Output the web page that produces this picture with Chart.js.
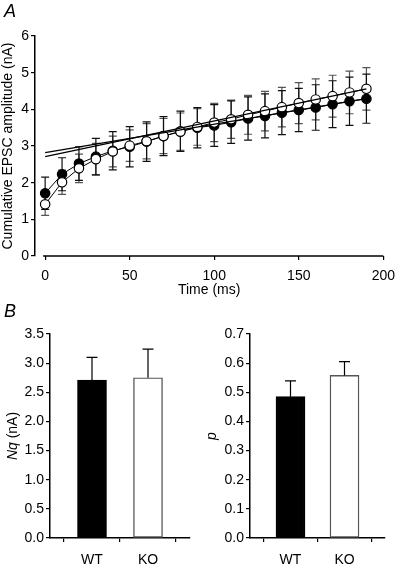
<!DOCTYPE html>
<html>
<head>
<meta charset="utf-8">
<script src="https://cdn.jsdelivr.net/npm/chart.js@4.4.1/dist/chart.umd.min.js"></script>
<style>
  html, body { margin: 0; padding: 0; background: #fff; }
  #wrap { position: relative; width: 403px; height: 565px; overflow: hidden; font-family: 'Liberation Sans', Arial, sans-serif; }
  canvas { position: absolute; }
  .panel { position: absolute; font-style: italic; font-size: 18px; line-height: 18px; color: #000; }
</style>
</head>
<body>
<div id="wrap">
  <canvas id="cumChart" width="403" height="300" style="left:0;top:0"></canvas>
  <canvas id="nqChart" width="200" height="270" style="left:0;top:295px"></canvas>
  <canvas id="pChart" width="203" height="270" style="left:200px;top:295px"></canvas>
  <div class="panel" style="left:4px;top:2px">A</div>
  <div class="panel" style="left:4px;top:302px">B</div>
</div>
<script>
// ---- data ----
const timeMs = [0, 10, 20, 30, 40, 50, 60, 70, 80, 90, 100, 110, 120, 130, 140, 150, 160, 170, 180, 190];
const wtMean = [1.71, 2.23, 2.52, 2.71, 2.87, 2.98, 3.12, 3.27, 3.40, 3.50, 3.56, 3.65, 3.75, 3.82, 3.91, 3.98, 4.05, 4.14, 4.22, 4.29];
const wtErr  = [0.44, 0.45, 0.46, 0.50, 0.52, 0.55, 0.54, 0.53, 0.55, 0.55, 0.57, 0.58, 0.59, 0.60, 0.60, 0.59, 0.62, 0.64, 0.66, 0.67];
const koMean = [1.41, 2.01, 2.39, 2.64, 2.85, 3.01, 3.13, 3.27, 3.39, 3.52, 3.64, 3.73, 3.85, 3.95, 4.06, 4.17, 4.27, 4.36, 4.46, 4.56];
const koErr  = [0.30, 0.33, 0.39, 0.43, 0.42, 0.43, 0.48, 0.48, 0.51, 0.50, 0.52, 0.52, 0.53, 0.54, 0.54, 0.56, 0.56, 0.57, 0.58, 0.58];
const fitTime = [0, 190];
const wtFit = [2.82, 4.29];
const koFit = [2.71, 4.56];
const timeTicks = [0, 50, 100, 150, 200];

const groups = ['WT', 'KO'];
const groupPos = [1, 2];
const nqMean = [2.71, 2.75];
const nqErr  = [0.39, 0.49];
const pMean  = [0.485, 0.558];
const pErr   = [0.054, 0.047];

Chart.defaults.font.family = "'Liberation Sans', Arial, sans-serif";
Chart.defaults.color = '#000';
Chart.defaults.animation = false;

const toPoints = (xs, ys) => xs.map((x, i) => ({ x: x, y: ys[i] }));

// error bars drawn from dataset.errors through the y scale
const errorBars = {
  id: 'errorBars',
  beforeDatasetsDraw(chart) {
    if (chart.config.type === 'line') drawErrors(chart);
  },
  afterDatasetsDraw(chart) {
    if (chart.config.type === 'bar') drawErrors(chart);
  }
};

function drawErrors(chart) {
  const ctx = chart.ctx;
  const yScale = chart.scales.y;
  chart.data.datasets.forEach((ds, di) => {
    if (!ds.errors) return;
    const meta = chart.getDatasetMeta(di);
    ctx.save();
    ctx.strokeStyle = ds.errorColor || '#000';
    ctx.lineWidth = 1.2;
    meta.data.forEach((el, i) => {
      const v = ds.data[i].y;
      const e = ds.errors[i];
      const x = el.x;
      const yTop = yScale.getPixelForValue(v + e);
      const yBot = ds.upOnly ? yScale.getPixelForValue(v) : yScale.getPixelForValue(v - e);
      const w = ds.capWidth || 8;
      ctx.beginPath();
      ctx.moveTo(x, yTop); ctx.lineTo(x, yBot);
      ctx.moveTo(x - w / 2, yTop); ctx.lineTo(x + w / 2, yTop);
      if (!ds.upOnly) { ctx.moveTo(x - w / 2, yBot); ctx.lineTo(x + w / 2, yBot); }
      ctx.stroke();
    });
    ctx.restore();
  });
}

// x axis line of panel A starts just left of 0, not at the y axis
const timeAxisLine = {
  id: 'timeAxisLine',
  afterDraw(chart) {
    const xs = chart.scales.x;
    const ctx = chart.ctx;
    ctx.save();
    ctx.strokeStyle = '#000';
    ctx.lineWidth = 1.5;
    ctx.beginPath();
    ctx.moveTo(xs.getPixelForValue(-1.2), xs.top);
    ctx.lineTo(chart.chartArea.right, xs.top);
    ctx.stroke();
    ctx.restore();
  }
};

// y title with italic part, e.g. "Nq (nA)"
const mixedTitle = {
  id: 'mixedTitle',
  afterDraw(chart, args, opts) {
    const ctx = chart.ctx;
    const area = chart.chartArea;
    const cy = (area.top + area.bottom) / 2;
    const fam = Chart.defaults.font.family;
    ctx.save();
    ctx.translate(opts.x, cy);
    ctx.rotate(-Math.PI / 2);
    ctx.fillStyle = '#000';
    ctx.textBaseline = 'middle';
    ctx.font = 'italic 14px ' + fam;
    const w1 = ctx.measureText(opts.italic).width;
    ctx.font = '14px ' + fam;
    const w2 = opts.plain ? ctx.measureText(opts.plain).width : 0;
    let x = -(w1 + w2) / 2;
    ctx.font = 'italic 14px ' + fam;
    ctx.textAlign = 'left';
    ctx.fillText(opts.italic, x, 0);
    if (opts.plain) {
      ctx.font = '14px ' + fam;
      ctx.fillText(opts.plain, x + w1, 0);
    }
    ctx.restore();
  }
};

// ---- panel A ----
new Chart(document.getElementById('cumChart'), {
  type: 'line',
  data: {
    datasets: [
      {
        label: 'WT fit',
        data: toPoints(fitTime, wtFit),
        borderColor: '#000', borderWidth: 1.3, pointRadius: 0, order: 0
      },
      {
        label: 'KO fit',
        data: toPoints(fitTime, koFit),
        borderColor: '#000', borderWidth: 1.3, pointRadius: 0, order: 0
      },
      {
        label: 'KO',
        data: toPoints(timeMs, koMean),
        errors: koErr, errorColor: '#555',
        borderColor: '#000', borderWidth: 1,
        pointRadius: 4.7, pointBackgroundColor: '#fff', pointBorderColor: '#000', pointBorderWidth: 1.2,
        order: 1
      },
      {
        label: 'WT',
        data: toPoints(timeMs, wtMean),
        errors: wtErr, errorColor: '#111',
        borderColor: '#000', borderWidth: 1,
        pointRadius: 4.7, pointBackgroundColor: '#000', pointBorderColor: '#000', pointBorderWidth: 1.2,
        order: 2
      }
    ]
  },
  options: {
    responsive: false,
    layout: { padding: { top: 36, right: 12, left: 0, bottom: 0 } },
    plugins: { legend: { display: false }, tooltip: { enabled: false } },
    scales: {
      x: {
        type: 'linear', min: -6, max: 200,
        afterFit: s => { s.height = 44; },
        afterBuildTicks: s => { s.ticks = timeTicks.map(v => ({ value: v })); },
        border: { display: false },
        grid: { drawOnChartArea: false, drawTicks: true, tickLength: 4, color: '#000', lineWidth: 1.2 },
        ticks: { font: { size: 14 }, padding: 8, maxRotation: 0 },
        title: { display: true, text: 'Time (ms)', font: { size: 14 }, padding: { top: 0, bottom: 1 } }
      },
      y: {
        min: 0, max: 6,
        afterFit: s => { s.width = 35; },
        border: { display: true, color: '#000', width: 1.5 },
        grid: { drawOnChartArea: false, drawTicks: true, tickLength: 4, color: '#000', lineWidth: 1.2 },
        ticks: { stepSize: 1, font: { size: 14 }, padding: 2 },
        title: { display: true, text: 'Cumulative EPSC amplitude (nA)', font: { size: 14 }, padding: { top: 0, bottom: 0 } }
      }
    }
  },
  plugins: [errorBars, timeAxisLine]
});

// ---- panel B ----
function barChart(id, means, errs, yMax, yStep, decimals, title, areaRight) {
  return new Chart(document.getElementById(id), {
    type: 'bar',
    data: {
      datasets: [{
        data: toPoints(groupPos, means),
        errors: errs, upOnly: true, errorColor: '#000', capWidth: 11,
        backgroundColor: ['#000', '#fff'],
        borderColor: ['#000', '#555'], borderWidth: 1.4, borderSkipped: false,
        barThickness: 29
      }]
    },
    options: {
      responsive: false,
      layout: { padding: { top: 39, right: areaRight, left: 0, bottom: 0 } },
      plugins: {
        legend: { display: false }, tooltip: { enabled: false },
        mixedTitle: title
      },
      scales: {
        x: {
          type: 'linear', min: 0.25, max: 2.75, offset: false,
          afterFit: s => { s.height = 27; },
          afterBuildTicks: s => { s.ticks = groupPos.map(v => ({ value: v })); },
          border: { display: true, color: '#000', width: 1.5 },
          grid: { drawOnChartArea: false, drawTicks: true, tickLength: 4, color: '#000', lineWidth: 1.2 },
          ticks: { font: { size: 14 }, padding: 10, maxRotation: 0, callback: v => groups[groupPos.indexOf(v)] }
        },
        y: {
          min: 0, max: yMax,
          afterFit: s => { s.width = 50; },
          border: { display: true, color: '#000', width: 1.5 },
          grid: { drawOnChartArea: false, drawTicks: true, tickLength: 4, color: '#000', lineWidth: 1.2 },
          ticks: { stepSize: yStep, font: { size: 14 }, padding: 2, callback: v => v.toFixed(decimals) }
        }
      }
    },
    plugins: [errorBars, mixedTitle]
  });
}

barChart('nqChart', nqMean, nqErr, 3.5, 0.5, 1, { x: 13, italic: 'Nq', plain: ' (nA)' }, 10);
barChart('pChart', pMean, pErr, 0.7, 0.1, 1, { x: 12, italic: 'p', plain: '' }, 18);
</script>
</body>
</html>
